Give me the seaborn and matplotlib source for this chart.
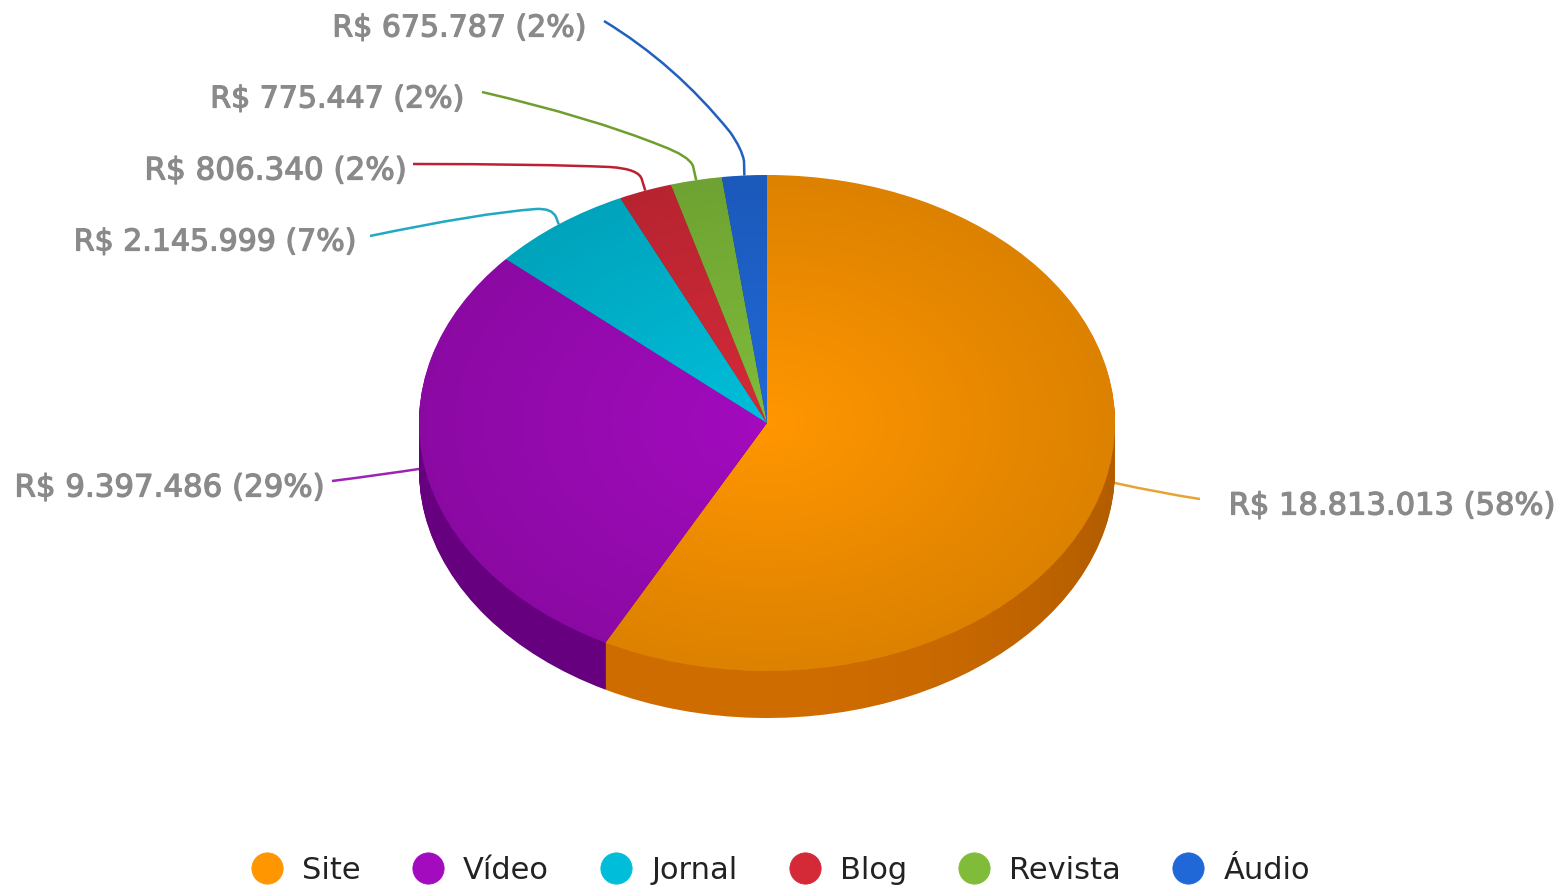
import numpy as np
import matplotlib
matplotlib.use("Agg")
import matplotlib.pyplot as plt
import seaborn as sns
from matplotlib.lines import Line2D
from matplotlib.patches import PathPatch, Ellipse
from matplotlib.path import Path
import matplotlib.patheffects as pe

categories = ["Site", "Vídeo", "Jornal", "Blog", "Revista", "Áudio"]
values = [18813013, 9397486, 2145999, 806340, 775447, 675787]
value_labels = ["R$ 18.813.013 (58%)", "R$ 9.397.486 (29%)", "R$ 2.145.999 (7%)",
                "R$ 806.340 (2%)", "R$ 775.447 (2%)", "R$ 675.787 (2%)"]

top_colors = ["#FF9600", "#A20BBE", "#00BEDA", "#D42A38", "#80BC3A", "#2068D8"]
wall_colors = ["#CF6C00", "#66007F", "#007F92", "#8E1A24", "#557D26", "#154690"]
line_colors = ["#E8A433", "#9C25B4", "#22A8C2", "#BE2032", "#6E9E30", "#2060BE"]

sns.set_theme(style="white")
plt.rcParams["font.family"] = ["DejaVu Sans"]

W, H = 1559, 887
CX, CY, RX, RY, DEPTH = 767, 424, 348, 248, 47

fig = plt.figure(figsize=(W / 100, H / 100), dpi=100)
ax = fig.add_axes([0, 0, 1, 1])


def px(x, y):
    return (x - CX) / RX, (CY - y) / RY


# leader lines (layout in pixels, first point computed from slice mid-angle)
total = sum(values)
fractions = np.array(values) / total
mids = 90 - 360 * (np.cumsum(fractions) - fractions / 2)
anchors = [(CX + RX * np.cos(np.radians(m)), CY - RY * np.sin(np.radians(m))) for m in mids]

leader_layouts = [
    [("L", 1115, 484), ("Q", 1160, 494, 1200, 500)],
    [("Q", 380, 476, 332, 482)],
    [("L", 556, 218), ("Q", 552, 209, 536, 210), ("Q", 480, 214, 370, 237)],
    [("L", 642, 181), ("Q", 640, 170, 610, 168), ("Q", 540, 165, 413, 165)],
    [("L", 693, 167), ("Q", 689, 157, 662, 147), ("Q", 590, 118, 482, 93)],
    [("L", 744, 162), ("Q", 742, 150, 730, 133), ("Q", 675, 65, 604, 22)],
]
label_layouts = [
    (1555, 507), (325, 489), (357, 243), (407, 172), (465, 100), (587, 29),
]
label_sizes = [22, 22.2, 21.6, 22.3, 21.6, 21.6]

for anc, layout, col in zip(anchors, leader_layouts, line_colors):
    verts, codes = [px(*anc)], [Path.MOVETO]
    for seg in layout:
        if seg[0] == "L":
            verts.append(px(seg[1], seg[2]))
            codes.append(Path.LINETO)
        else:
            verts += [px(seg[1], seg[2]), px(seg[3], seg[4])]
            codes += [Path.CURVE3, Path.CURVE3]
    ax.add_patch(PathPatch(Path(verts, codes), fc="none", ec=col, lw=1.8, zorder=1))

# extruded wall: stacked copies of the pie
wall_palette = sns.color_palette(wall_colors)
for d in np.arange(DEPTH, 0, -1.0):
    wedges, _ = ax.pie(values, colors=wall_palette, startangle=90, counterclock=False,
                       center=(0, -d / RY), radius=1, frame=True,
                       wedgeprops=dict(linewidth=0, edgecolor="none"))
    for w in wedges:
        w.set_zorder(2)

# darkening of the wall towards the right
gx = np.linspace(-1, 1, 400)
wall_shade = np.zeros((1, 400, 4))
wall_shade[0, :, 3] = 0.14 * np.clip(gx, 0, 1) ** 2
wall_im = ax.imshow(wall_shade, extent=(-1, 1, -1 - DEPTH / RY, 0), origin="lower",
                    aspect="auto", zorder=2.5, interpolation="bilinear")
th = np.radians(np.linspace(180, 360, 200))
wall_pts = np.column_stack([np.cos(th), np.sin(th) - DEPTH / RY])
wall_pts = np.vstack([[-1, 0], wall_pts, [1, 0], [-1, 0]])
wall_im.set_clip_path(PathPatch(Path(wall_pts), transform=ax.transData))

# top surface
wedges, _ = ax.pie(values, colors=sns.color_palette(top_colors), startangle=90,
                   counterclock=False, center=(0, 0), radius=1, frame=True,
                   wedgeprops=dict(linewidth=0, edgecolor="none"))
for w in wedges:
    w.set_zorder(3)

# radial darkening of the top surface
n = 500
g = np.linspace(-1, 1, n)
xx, yy = np.meshgrid(g, g)
rr = np.clip(np.hypot(xx, yy), 0, 1)
shade = np.zeros((n, n, 4))
shade[..., 3] = 0.14 * rr
im = ax.imshow(shade, extent=(-1, 1, -1, 1), origin="lower", aspect="auto", zorder=4,
               interpolation="bilinear")
im.set_clip_path(Ellipse((0, 0), 2, 2, transform=ax.transData))

ax.set_aspect("auto")
ax.set_xlim(-CX / RX, (W - CX) / RX)
ax.set_ylim(-(H - CY) / RY, CY / RY)
ax.axis("off")

# value labels
for txt, (lx, ly), fs in zip(value_labels, label_layouts, label_sizes):
    x, y = px(lx, ly)
    ax.text(x, y, txt, ha="right", va="center", color="#8A8A8A", fontsize=fs,
            zorder=6, path_effects=[pe.withStroke(linewidth=0.9, foreground="#8A8A8A")])

# legend
handles = [Line2D([], [], ls="none", marker="o", ms=22.5, mfc=c, mec=c, mew=0.6, label=lab)
           for c, lab in zip(top_colors, categories)]
leg = ax.legend(handles=handles, ncol=6, loc="center", bbox_to_anchor=(777 / W, 1 - 871 / H),
                frameon=False, fontsize=22, labelcolor="#222222", handletextpad=0.4,
                columnspacing=1.45, handlelength=1.5, borderpad=0, borderaxespad=0)

fig.savefig("out.png", dpi=100, facecolor="white")
